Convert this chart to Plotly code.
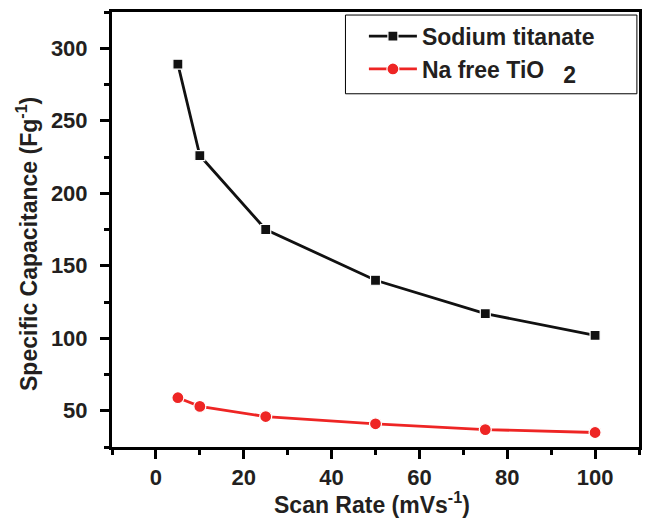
import plotly.graph_objects as go

scan_rate = [5, 10, 25, 50, 75, 100]
sodium_titanate = [289, 226, 175, 140, 117, 102]
na_free_tio2 = [59, 53, 46, 41, 37, 35]

name_st = "Sodium titanate"
name_tio2 = "Na free TiO&nbsp;&nbsp;&nbsp;<sub><span style='font-size:23px'>2</span></sub>"
x_title = "Scan Rate (mVs<sup>-1</sup>)"
y_title = "Specific Capacitance (Fg<sup>-1</sup>)"

FONT = "Liberation Sans, Arial, sans-serif"
TXT = "#231f20"

fig = go.Figure()
fig.add_trace(go.Scatter(
    x=scan_rate, y=sodium_titanate, name=name_st, mode="lines+markers",
    line=dict(color="#111111", width=2.8),
    marker=dict(symbol="square", size=10, color="#111111", line=dict(color="white", width=1.2)),
))
fig.add_trace(go.Scatter(
    x=scan_rate, y=na_free_tio2, name=name_tio2, mode="lines+markers",
    line=dict(color="#ee2524", width=2.8),
    marker=dict(symbol="circle", size=12, color="#ee2524", line=dict(color="white", width=1.2)),
))

axis_common = dict(
    showline=True, linecolor="black", linewidth=3, mirror=True,
    ticks="outside", ticklen=9, tickwidth=2.5, tickcolor="black",
    showgrid=False, zeroline=False,
    tickfont=dict(family=FONT, size=22, color=TXT, weight="bold"),
)

fig.update_xaxes(range=[-10, 110], tickvals=[0, 20, 40, 60, 80, 100],
                 minor=dict(ticks="outside", ticklen=5, tickwidth=2.5, tickcolor="black", dtick=10, tick0=0),
                 ticklabelstandoff=0, **axis_common)
fig.update_yaxes(range=[25, 325], tickvals=[50, 100, 150, 200, 250, 300],
                 minor=dict(ticks="outside", ticklen=5, tickwidth=2.5, tickcolor="black", dtick=25, tick0=0),
                 ticklabelstandoff=8, **axis_common)

fig.add_annotation(text=x_title, xref="paper", yref="paper", x=0.4925, y=-0.128,
                   xanchor="center", yanchor="middle", showarrow=False,
                   font=dict(family=FONT, size=23, color=TXT, weight="bold"))
fig.add_annotation(text=y_title, xref="paper", yref="paper", x=-0.160, y=0.466,
                   xanchor="center", yanchor="middle", showarrow=False, textangle=-90,
                   font=dict(family=FONT, size=23, color=TXT, weight="bold"))

# legend frame
fig.add_shape(type="rect", xref="paper", yref="paper", x0=0.443, x1=0.996, y0=0.812, y1=0.993,
              line=dict(color="black", width=1), fillcolor="rgba(0,0,0,0)", layer="above")

fig.update_layout(
    width=651, height=519,
    margin=dict(l=112, r=9, t=10, b=72),
    plot_bgcolor="white", paper_bgcolor="white",
    showlegend=True,
    legend=dict(x=0.478, y=0.994, xanchor="left", yanchor="top",
                bgcolor="rgba(0,0,0,0)", borderwidth=0, itemwidth=48, tracegroupgap=0,
                font=dict(family=FONT, size=23, color=TXT, weight="bold")),
)

fig.write_html("out.html")
